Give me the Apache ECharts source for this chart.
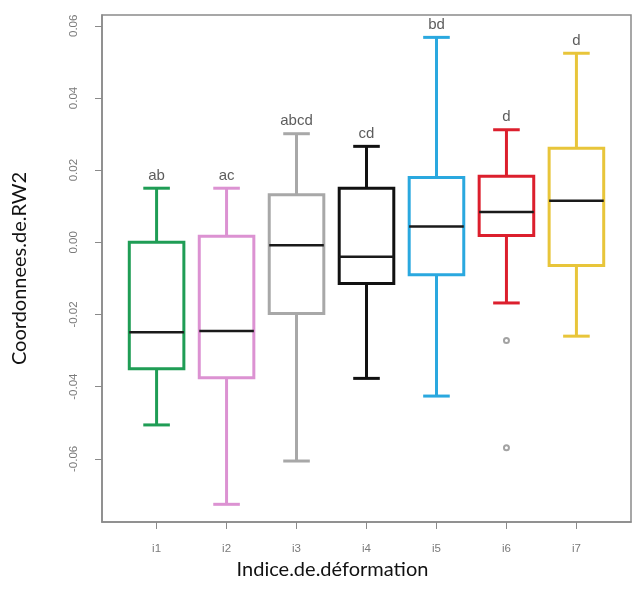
<!DOCTYPE html>
<html>
<head>
<meta charset="utf-8">
<script src="https://cdn.jsdelivr.net/npm/echarts@6/dist/echarts.min.js"></script>
<style>
  html, body { margin: 0; padding: 0; background: #ffffff; }
  #chart { width: 632px; height: 605px; }
</style>
</head>
<body>
<div id="chart"></div>
<script>
// Deformation index groups and the RW2 coordinate summaries for each one
const categories = ['i1', 'i2', 'i3', 'i4', 'i5', 'i6', 'i7'];
const lowerWhisker = [-0.0506, -0.0726, -0.0606, -0.0377, -0.0426, -0.0168, -0.0260];
const quartile1    = [-0.0350, -0.0375, -0.0197, -0.0114, -0.0090,  0.0019, -0.0064];
const medians      = [-0.0249, -0.0246, -0.0008, -0.0040,  0.0044,  0.0084,  0.0115];
const quartile3    = [ 0.0000,  0.0017,  0.0132,  0.0150,  0.0180,  0.0183,  0.0261];
const upperWhisker = [ 0.0150,  0.0150,  0.0301,  0.0266,  0.0568,  0.0312,  0.0524];
const groupLetters = ['ab', 'ac', 'abcd', 'cd', 'bd', 'd', 'd'];
const outlierGroups = ['i6', 'i6'];
const outlierValues = [-0.0272, -0.0569];
const yTickValues = [-0.06, -0.04, -0.02, 0.00, 0.02, 0.04, 0.06];
const boxColors = ['#1f9d55', '#dc92d2', '#a8a8a8', '#111111', '#2aa8df', '#dc1f2d', '#e8c53a'];

const positions = categories.map((c, i) => i + 1);
const boxData = categories.map((c, i) => [positions[i], lowerWhisker[i], quartile1[i], medians[i], quartile3[i], upperWhisker[i]]);
const letterData = categories.map((c, i) => [positions[i], upperWhisker[i]]);
const outlierData = outlierGroups.map((g, i) => [categories.indexOf(g) + 1, outlierValues[i]]);

// Box, whiskers with short caps, and a black median bar for each group
function renderBox(params, api) {
  const xv = api.value(0);
  const lo = api.coord([xv, api.value(1)]);
  const b1 = api.coord([xv, api.value(2)]);
  const md = api.coord([xv, api.value(3)]);
  const b3 = api.coord([xv, api.value(4)]);
  const hi = api.coord([xv, api.value(5)]);
  const unit = api.size([1, 0])[0];
  const half = unit * 0.39;
  const cap = unit * 0.19;
  const cx = lo[0];
  const color = boxColors[params.dataIndex];
  const stroke = { stroke: color, lineWidth: 3, fill: null };
  return {
    type: 'group',
    children: [
      { type: 'line', shape: { x1: cx, y1: lo[1], x2: cx, y2: b1[1] }, style: stroke },
      { type: 'line', shape: { x1: cx, y1: hi[1], x2: cx, y2: b3[1] }, style: stroke },
      { type: 'line', shape: { x1: cx - cap, y1: lo[1], x2: cx + cap, y2: lo[1] }, style: stroke },
      { type: 'line', shape: { x1: cx - cap, y1: hi[1], x2: cx + cap, y2: hi[1] }, style: stroke },
      { type: 'rect', shape: { x: cx - half, y: b3[1], width: half * 2, height: b1[1] - b3[1] },
        style: { stroke: color, lineWidth: 3, fill: '#ffffff' } },
      { type: 'line', shape: { x1: cx - half, y1: md[1], x2: cx + half, y2: md[1] },
        style: { stroke: '#1a1a1a', lineWidth: 2.5 } }
    ]
  };
}

const axisGray = '#8a8a8a';
const chart = echarts.init(document.getElementById('chart'), null, { renderer: 'canvas' });
chart.setOption({
  animation: false,
  backgroundColor: '#ffffff',
  grid: {
    left: 102, right: 1, top: 15, bottom: 83,
    show: true, borderColor: axisGray, borderWidth: 1.5, backgroundColor: 'transparent'
  },
  xAxis: {
    type: 'value',
    min: 0.22,
    max: 7.78,
    splitLine: { show: false },
    axisLine: { show: true, onZero: false, lineStyle: { color: axisGray, width: 1.5 } },
    axisTick: { show: true, length: 7, customValues: positions, lineStyle: { color: axisGray } },
    axisLabel: {
      customValues: positions,
      formatter: v => categories[Math.round(v) - 1] || '',
      color: '#7a7a7a', fontSize: 11.5, margin: 21,
      fontFamily: 'Liberation Sans'
    },
    name: 'Indice.de.déformation',
    nameLocation: 'middle',
    nameGap: 36,
    nameTextStyle: { fontFamily: 'Lato', fontSize: 20, color: '#111111', padding: [0, 68, 0, 0] }
  },
  yAxis: {
    type: 'value',
    min: -0.0775,
    max: 0.063,
    splitLine: { show: false },
    axisLine: { show: true, onZero: false, lineStyle: { color: axisGray, width: 1.5 } },
    axisTick: { show: true, length: 7, customValues: yTickValues, lineStyle: { color: axisGray } },
    axisLabel: {
      customValues: yTickValues,
      formatter: v => v.toFixed(2),
      rotate: 90,
      color: '#7a7a7a', fontSize: 11.5, margin: 22,
      fontFamily: 'Liberation Sans'
    },
    name: 'Coordonnees.de.RW2',
    nameLocation: 'middle',
    nameRotate: 90,
    nameGap: 72,
    nameTextStyle: { fontFamily: 'Lato', fontSize: 20, color: '#111111' }
  },
  series: [
    {
      type: 'custom',
      renderItem: renderBox,
      data: boxData,
      encode: { x: 0, y: [1, 2, 3, 4, 5] },
      clip: false,
      z: 2
    },
    {
      type: 'scatter',
      data: letterData,
      symbolSize: 0,
      silent: true,
      label: {
        show: true,
        position: 'top',
        distance: 5,
        formatter: p => groupLetters[p.dataIndex],
        color: '#333333',
        fontSize: 15,
        fontFamily: 'Liberation Sans'
      },
      z: 3
    },
    {
      type: 'scatter',
      data: outlierData,
      symbol: 'emptyCircle',
      symbolSize: 5,
      itemStyle: { color: '#8c8c8c', borderWidth: 1 },
      z: 3
    }
  ]
});
</script>
</body>
</html>
